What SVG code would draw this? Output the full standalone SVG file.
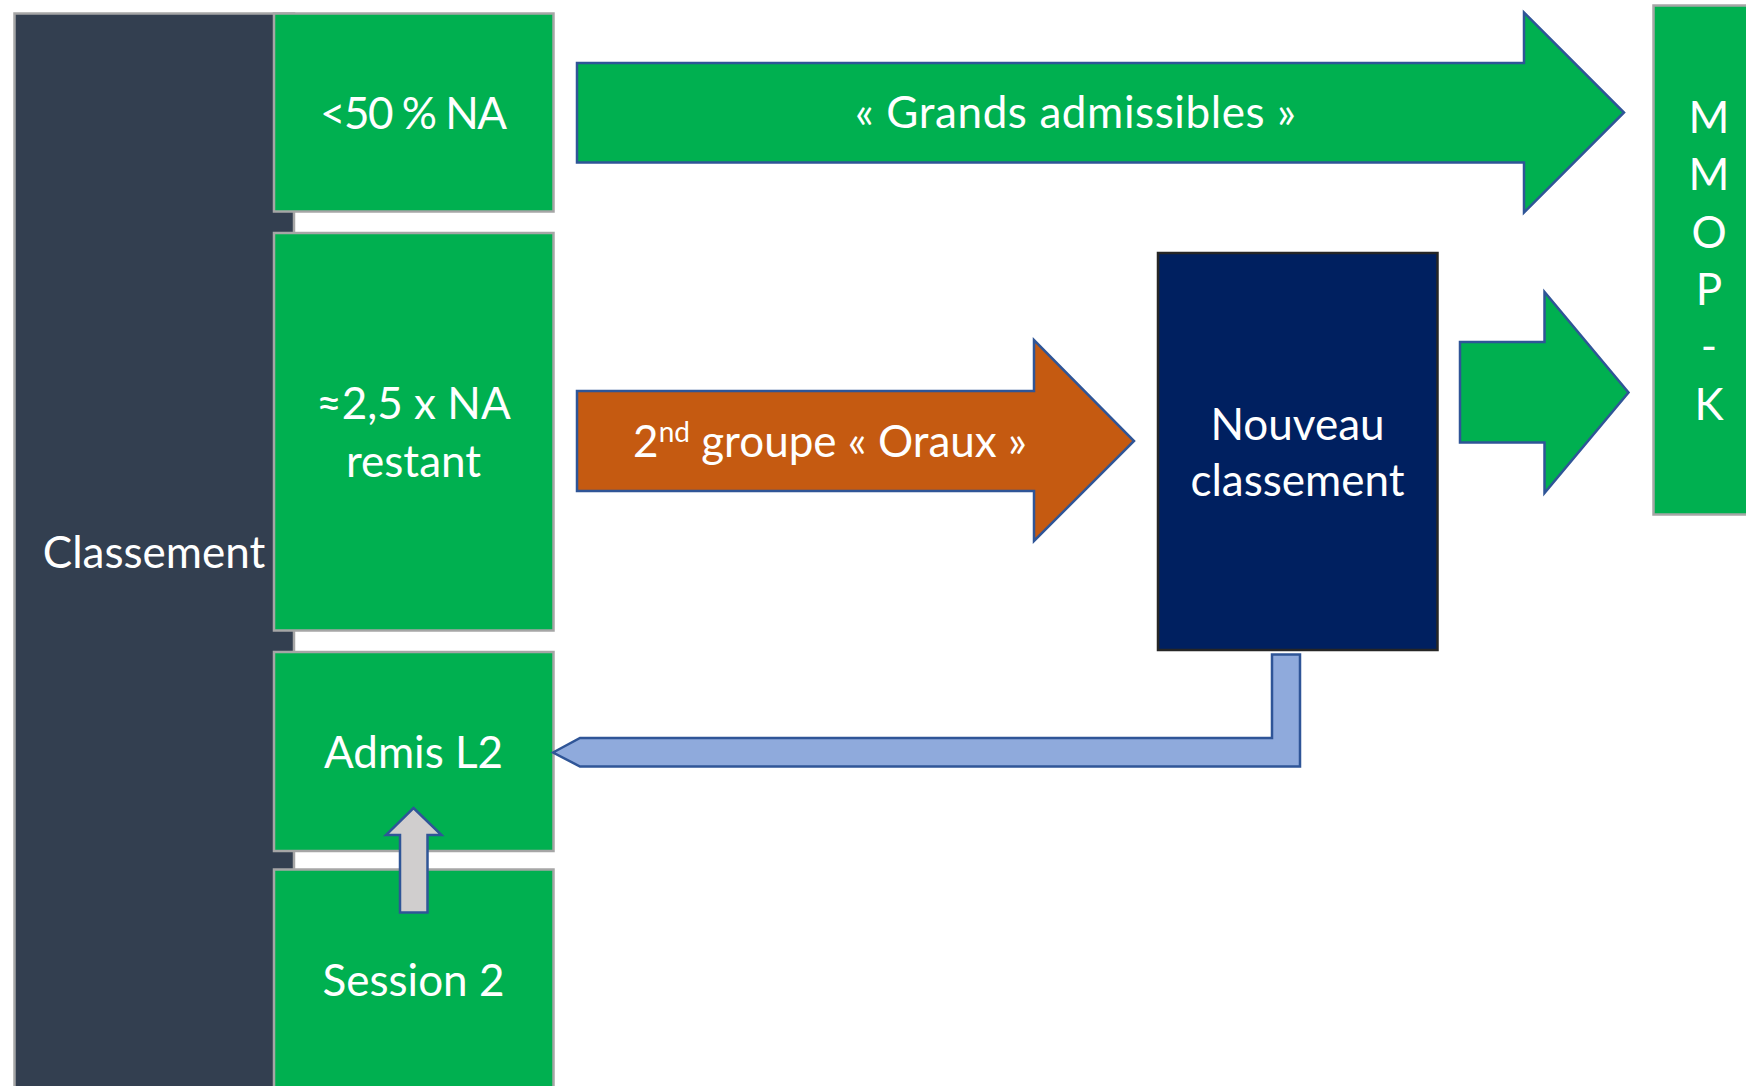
<svg xmlns="http://www.w3.org/2000/svg" width="1746" height="1086" viewBox="0 0 1746 1086">
<style>
.box{fill:#00B050;stroke:#A6A6A6;stroke-width:2.5}
.dark{fill:#333F50;stroke:#A6A6A6;stroke-width:2.5}
.navy{fill:#002060;stroke:#262626;stroke-width:2.5}
.arr{stroke:#2F5597;stroke-width:2.5;stroke-linejoin:miter}
.t{font-family:Lato,"Open Sans","Liberation Sans",sans-serif;font-size:44px;fill:#FFFFFF;text-anchor:middle}
</style>
<rect width="1746" height="1086" fill="#FFFFFF"/>
<g id="classement">
<rect class="dark" x="14.5" y="13.5" width="279.5" height="1090"/>
<text class="t" x="154" y="568">Classement</text>
</g>
<g id="box-50na">
<rect class="box" x="274" y="13.5" width="279.5" height="198"/>
<text class="t" x="413.5" y="129" textLength="187" lengthAdjust="spacing">&lt;50 % NA</text>
</g>
<g id="box-25na">
<rect class="box" x="274" y="233" width="279.5" height="397.5"/>
<text class="t" x="413.5" y="418.5">≈2,5 x NA</text>
<text class="t" x="413.5" y="476.5">restant</text>
</g>
<g id="box-admis">
<rect class="box" x="274" y="652" width="279.5" height="199"/>
<text class="t" x="413.5" y="767.5">Admis L2</text>
</g>
<g id="box-session">
<rect class="box" x="274" y="869.5" width="279.5" height="240"/>
<text class="t" x="413.5" y="995.5">Session 2</text>
</g>
<g id="nouveau">
<rect class="navy" x="1158" y="253" width="279.5" height="397"/>
<text class="t" x="1297.5" y="439.5">Nouveau</text>
<text class="t" x="1297.5" y="496">classement</text>
</g>
<g id="mmopk">
<rect class="box" x="1653.5" y="5.5" width="100" height="509"/>
<text class="t" x="1709" y="133">M<tspan x="1709" dy="57.3">M</tspan><tspan x="1709" dy="57.3">O</tspan><tspan x="1709" dy="57.3">P</tspan><tspan x="1709" dy="57.3">-</tspan><tspan x="1709" dy="57.3">K</tspan></text>
</g>
<g id="connectors">
<g id="arrow-grands">
<polygon class="arr" fill="#00B050" points="577,63 1524,63 1524,12.5 1624,112.5 1524,212.5 1524,162.5 577,162.5"/>
<text class="t" x="1075.5" y="127.5" textLength="441" lengthAdjust="spacing">« Grands admissibles »</text>
</g>
<g id="arrow-oraux">
<polygon class="arr" fill="#C55A11" points="577,391 1034,391 1034,340 1134,441 1034,541 1034,491 577,491"/>
<text class="t" x="830" y="456.5">2<tspan font-size="28" dy="-15">nd</tspan><tspan dy="15"> groupe « Oraux »</tspan></text>
</g>
<polygon id="arrow-mmopk" class="arr" fill="#00B050" points="1460,342 1544.5,342 1544.5,292 1628.5,392.5 1544.5,493 1544.5,442.5 1460,442.5"/>
<polygon id="arrow-retour" class="arr" fill="#8FAADC" points="553,752.5 580,738 1272,738 1272,654.5 1300,654.5 1300,766.5 580,766.5"/>
<polygon id="arrow-session" class="arr" fill="#D0CECE" points="413.5,808 441.5,835 427.5,835 427.5,912.5 400,912.5 400,835 386,835"/>
</g>
</svg>
